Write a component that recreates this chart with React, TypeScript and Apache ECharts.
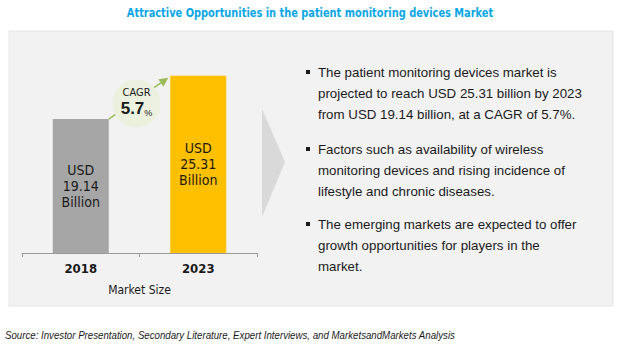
import React, { useEffect, useRef } from "react";
import * as echarts from "echarts";

const title = "Attractive Opportunities in the patient monitoring devices Market";
const categories = ["2018", "2023"];
const marketValues = [19.14, 25.31];
const barColors = ["#a6a6a6", "#ffc000"];
const cagrValue = "5.7";
const axisName = "Market Size";
const bullets = [
  "The patient monitoring devices market is\nprojected to reach USD 25.31 billion by 2023\nfrom USD 19.14 billion, at a CAGR of 5.7%.",
  "Factors such as availability of wireless\nmonitoring devices and rising incidence of\nlifestyle and chronic diseases.",
  "The emerging markets are expected to offer\ngrowth opportunities for players in the\nmarket.",
];
const source =
  "Source: Investor Presentation, Secondary Literature, Expert Interviews, and MarketsandMarkets Analysis";

const NARROW = '"Liberation Sans Narrow", "DejaVu Sans Condensed", "Liberation Sans", sans-serif';
const SANS = '"Liberation Sans", Arial, sans-serif';

export default function App() {
  const ref = useRef<HTMLDivElement>(null);
  useEffect(() => {
    document.body.style.margin = "0";
    if (!ref.current) return;
    const chart = echarts.init(ref.current, null, { renderer: "svg" });
    const baseOption: any = {
      animation: false,
      backgroundColor: "#ffffff",
      grid: { left: 22, right: 364, top: 43, height: 210 },
      xAxis: {
        type: "category",
        data: categories,
        axisLine: { lineStyle: { color: "#9a9a9a", width: 1 } },
        axisTick: { show: true, length: 4, lineStyle: { color: "#9a9a9a" } },
        axisLabel: { color: "#1a1a1a", fontSize: 13, fontWeight: "bold", fontFamily: NARROW, margin: 9 },
        name: axisName,
        nameLocation: "middle",
        nameGap: 31,
        nameTextStyle: { color: "#1a1a1a", fontSize: 12, fontFamily: NARROW },
      },
      yAxis: { type: "value", min: 0, max: 30, show: false, splitLine: { show: false } },
      series: [
        {
          type: "bar",
          barWidth: 56,
          data: marketValues.map((v, i) => ({ value: v, itemStyle: { color: barColors[i] } })),
          label: {
            show: true,
            position: "inside",
            formatter: (p: any) => `USD\n${p.value.toFixed(2)}\nBillion`,
            color: "#1a1a1a",
            fontSize: 14,
            lineHeight: 16,
            fontFamily: NARROW,
          },
          z: 3,
        },
      ],
    };
    chart.setOption(baseOption);

    const p0 = chart.convertToPixel({ seriesIndex: 0 }, [0, marketValues[0]]) as number[];
    const p1 = chart.convertToPixel({ seriesIndex: 0 }, [1, marketValues[1]]) as number[];
    const half = 28;
    const sx = p0[0] + half;
    const sy = p0[1];
    const ex = p1[0] - half - 2;
    const ey = p1[1] + 2;
    const dx = ex - sx;
    const dy = ey - sy;
    const len = Math.sqrt(dx * dx + dy * dy);
    const ux = dx / len;
    const uy = dy / len;
    const ah = 9;
    const aw = 4.5;
    const bx = ex - ux * ah;
    const by = ey - uy * ah;
    const cx = (sx + ex) / 2 - 2;
    const cy = (sy + ey) / 2 + 5;

    const graphics: any[] = [
      {
        type: "rect",
        shape: { x: 9, y: 31, width: 604, height: 275 },
        style: { fill: "#f2f2f2", stroke: "#e6e6e6", lineWidth: 1 },
        z: -10,
        silent: true,
      },
      {
        type: "text",
        x: 310,
        y: 13,
        scaleX: 0.84,
        style: {
          text: title,
          fontSize: 13,
          fontWeight: "bold",
          fontFamily: NARROW,
          fill: "#0aa6e6",
          align: "center",
          verticalAlign: "middle",
        },
      },
      {
        type: "polygon",
        shape: { points: [[262, 109], [285, 162], [262, 217]] },
        style: { fill: "#d9d9d9" },
        z: 1,
      },
      {
        type: "line",
        shape: { x1: sx, y1: sy, x2: bx, y2: by },
        style: { stroke: "#9bbb59", lineWidth: 1.5 },
        z: 5,
      },
      {
        type: "polygon",
        shape: {
          points: [
            [ex, ey],
            [bx - uy * aw, by + ux * aw],
            [bx + uy * aw, by - ux * aw],
          ],
        },
        style: { fill: "#9bbb59" },
        z: 5,
      },
      {
        type: "circle",
        shape: { cx, cy, r: 24 },
        style: { fill: "#ebf1de" },
        z: 10,
      },
      {
        type: "text",
        x: cx,
        y: cy - 2,
        style: {
          text: `{a|CAGR}\n{b|${cagrValue}}{c|%}`,
          align: "center",
          verticalAlign: "middle",
          rich: {
            a: { fontSize: 11, fontFamily: NARROW, fill: "#1a1a1a", lineHeight: 14, align: "center" },
            b: { fontSize: 17, fontWeight: "bold", fontFamily: SANS, fill: "#1a1a1a", lineHeight: 18 },
            c: { fontSize: 9, fontFamily: SANS, fill: "#1a1a1a", lineHeight: 18, verticalAlign: "bottom" },
          },
        },
        z: 11,
      },
      {
        type: "text",
        x: 5,
        y: 335,
        scaleX: 0.88,
        style: {
          text: source,
          fontSize: 11,
          fontStyle: "italic",
          fontFamily: SANS,
          fill: "#1a1a1a",
          verticalAlign: "middle",
        },
      },
    ];
    const blockTops = [62, 139, 214];
    bullets.forEach((b, i) => {
      graphics.push({
        type: "rect",
        shape: { x: 306, y: blockTops[i] + 8, width: 4, height: 4 },
        style: { fill: "#1a1a1a" },
        z: 5,
      });
      graphics.push({
        type: "text",
        x: 318,
        y: blockTops[i],
        style: {
          text: b,
          fontSize: 13.3,
          fontFamily: SANS,
          fill: "#1a1a1a",
          lineHeight: 21,
          verticalAlign: "top",
        },
        z: 5,
      });
    });
    chart.setOption({ graphic: graphics });
    return () => chart.dispose();
  }, []);
  return <div ref={ref} style={{ width: 621, height: 345 }} />;
}
